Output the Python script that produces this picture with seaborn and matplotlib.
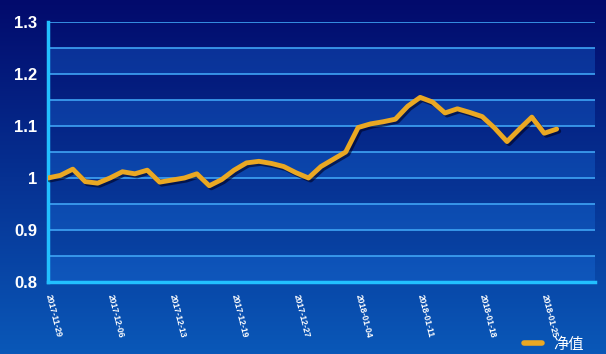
import numpy as np
import pandas as pd
import seaborn as sns
import matplotlib.pyplot as plt
import matplotlib.patheffects as pe
from matplotlib.colors import LinearSegmentedColormap

# %% data
nav = [1.000, 1.005, 1.017, 0.993, 0.990, 1.000, 1.012, 1.008, 1.015, 0.992,
       0.996, 1.000, 1.008, 0.985, 0.997, 1.015, 1.029, 1.032, 1.028, 1.022,
       1.010, 1.000, 1.022, 1.036, 1.050, 1.097, 1.104, 1.108, 1.113, 1.138,
       1.155, 1.146, 1.125, 1.133, 1.126, 1.118, 1.096, 1.070, 1.094, 1.117,
       1.086, 1.094]
tick_labels = ['2017-11-29', '2017-12-06', '2017-12-13', '2017-12-19',
               '2017-12-27', '2018-01-04', '2018-01-11', '2018-01-18',
               '2018-01-25']
y_ticks = [0.8, 0.9, 1.0, 1.1, 1.2, 1.3]
y_labels = ['0.8', '0.9', '1', '1.1', '1.2', '1.3']
series_name = '净值'

df = pd.DataFrame({'idx': np.arange(len(nav)), series_name: nav})

# %% style
sns.set_style('white')
plt.rcParams['font.family'] = ['Liberation Sans', 'Noto Sans CJK SC', 'DejaVu Sans']

fig = plt.figure(figsize=(6.06, 3.54), dpi=100)

# background gradient
bg = fig.add_axes([0, 0, 1, 1], zorder=0)
grad = np.linspace(0, 1, 256).reshape(-1, 1)
cmap_bg = LinearSegmentedColormap.from_list('bg', ['#020a6c', '#0a58b8'])
bg.imshow(grad, aspect='auto', cmap=cmap_bg, extent=[0, 1, 0, 1], origin='upper')
bg.set_axis_off()

ax = fig.add_axes([0.0792, 0.2034, 0.9028, 0.7346], zorder=1)
ax.patch.set_alpha(0)

# lighter bands
for lo in [0.8, 0.9, 1.0, 1.1, 1.2]:
    ax.axhspan(lo, lo + 0.05, color='#1c78e8', alpha=0.3, lw=0, zorder=0)
for yv in np.arange(0.85, 1.31, 0.05):
    ax.axhline(yv, color='#3fa4f5', lw=1.2, zorder=1)

sns.lineplot(data=df, x='idx', y=series_name, ax=ax, color='#eaa823',
             linewidth=3.5, label=series_name, zorder=3,
             path_effects=[pe.SimpleLineShadow(offset=(1.5, -1.5), shadow_color='#000020', alpha=0.6),
                           pe.Normal()])

ax.set_xlim(0, 44.1)
ax.set_ylim(0.8, 1.3)
ax.set_yticks(y_ticks)
ax.set_yticklabels(y_labels, color='white', fontsize=12, fontweight='bold')
ax.set_xticks(np.arange(0, 5 * len(tick_labels), 5))
ax.set_xticklabels(tick_labels, rotation=-76, ha='left', va='center',
                   rotation_mode='anchor', color='white', fontsize=6.2,
                   fontweight='bold')
ax.set_xlabel('')
ax.set_ylabel('')

for s in ['top', 'right']:
    ax.spines[s].set_visible(False)
for s in ['left', 'bottom']:
    ax.spines[s].set_color('#22c0ff')
    ax.spines[s].set_linewidth(2.5)
ax.tick_params(axis='both', length=5, width=2, color='#22c0ff', pad=3)
ax.tick_params(axis='x', pad=4)

leg = ax.legend(loc='center right', bbox_to_anchor=(0.99, -0.24), frameon=False,
                handlelength=1.2, fontsize=11, labelcolor='white',
                borderaxespad=0, handletextpad=0.7)
for h in leg.get_lines():
    h.set_linewidth(4)
    h.set_path_effects([])

fig.savefig('out.png', dpi=100)
